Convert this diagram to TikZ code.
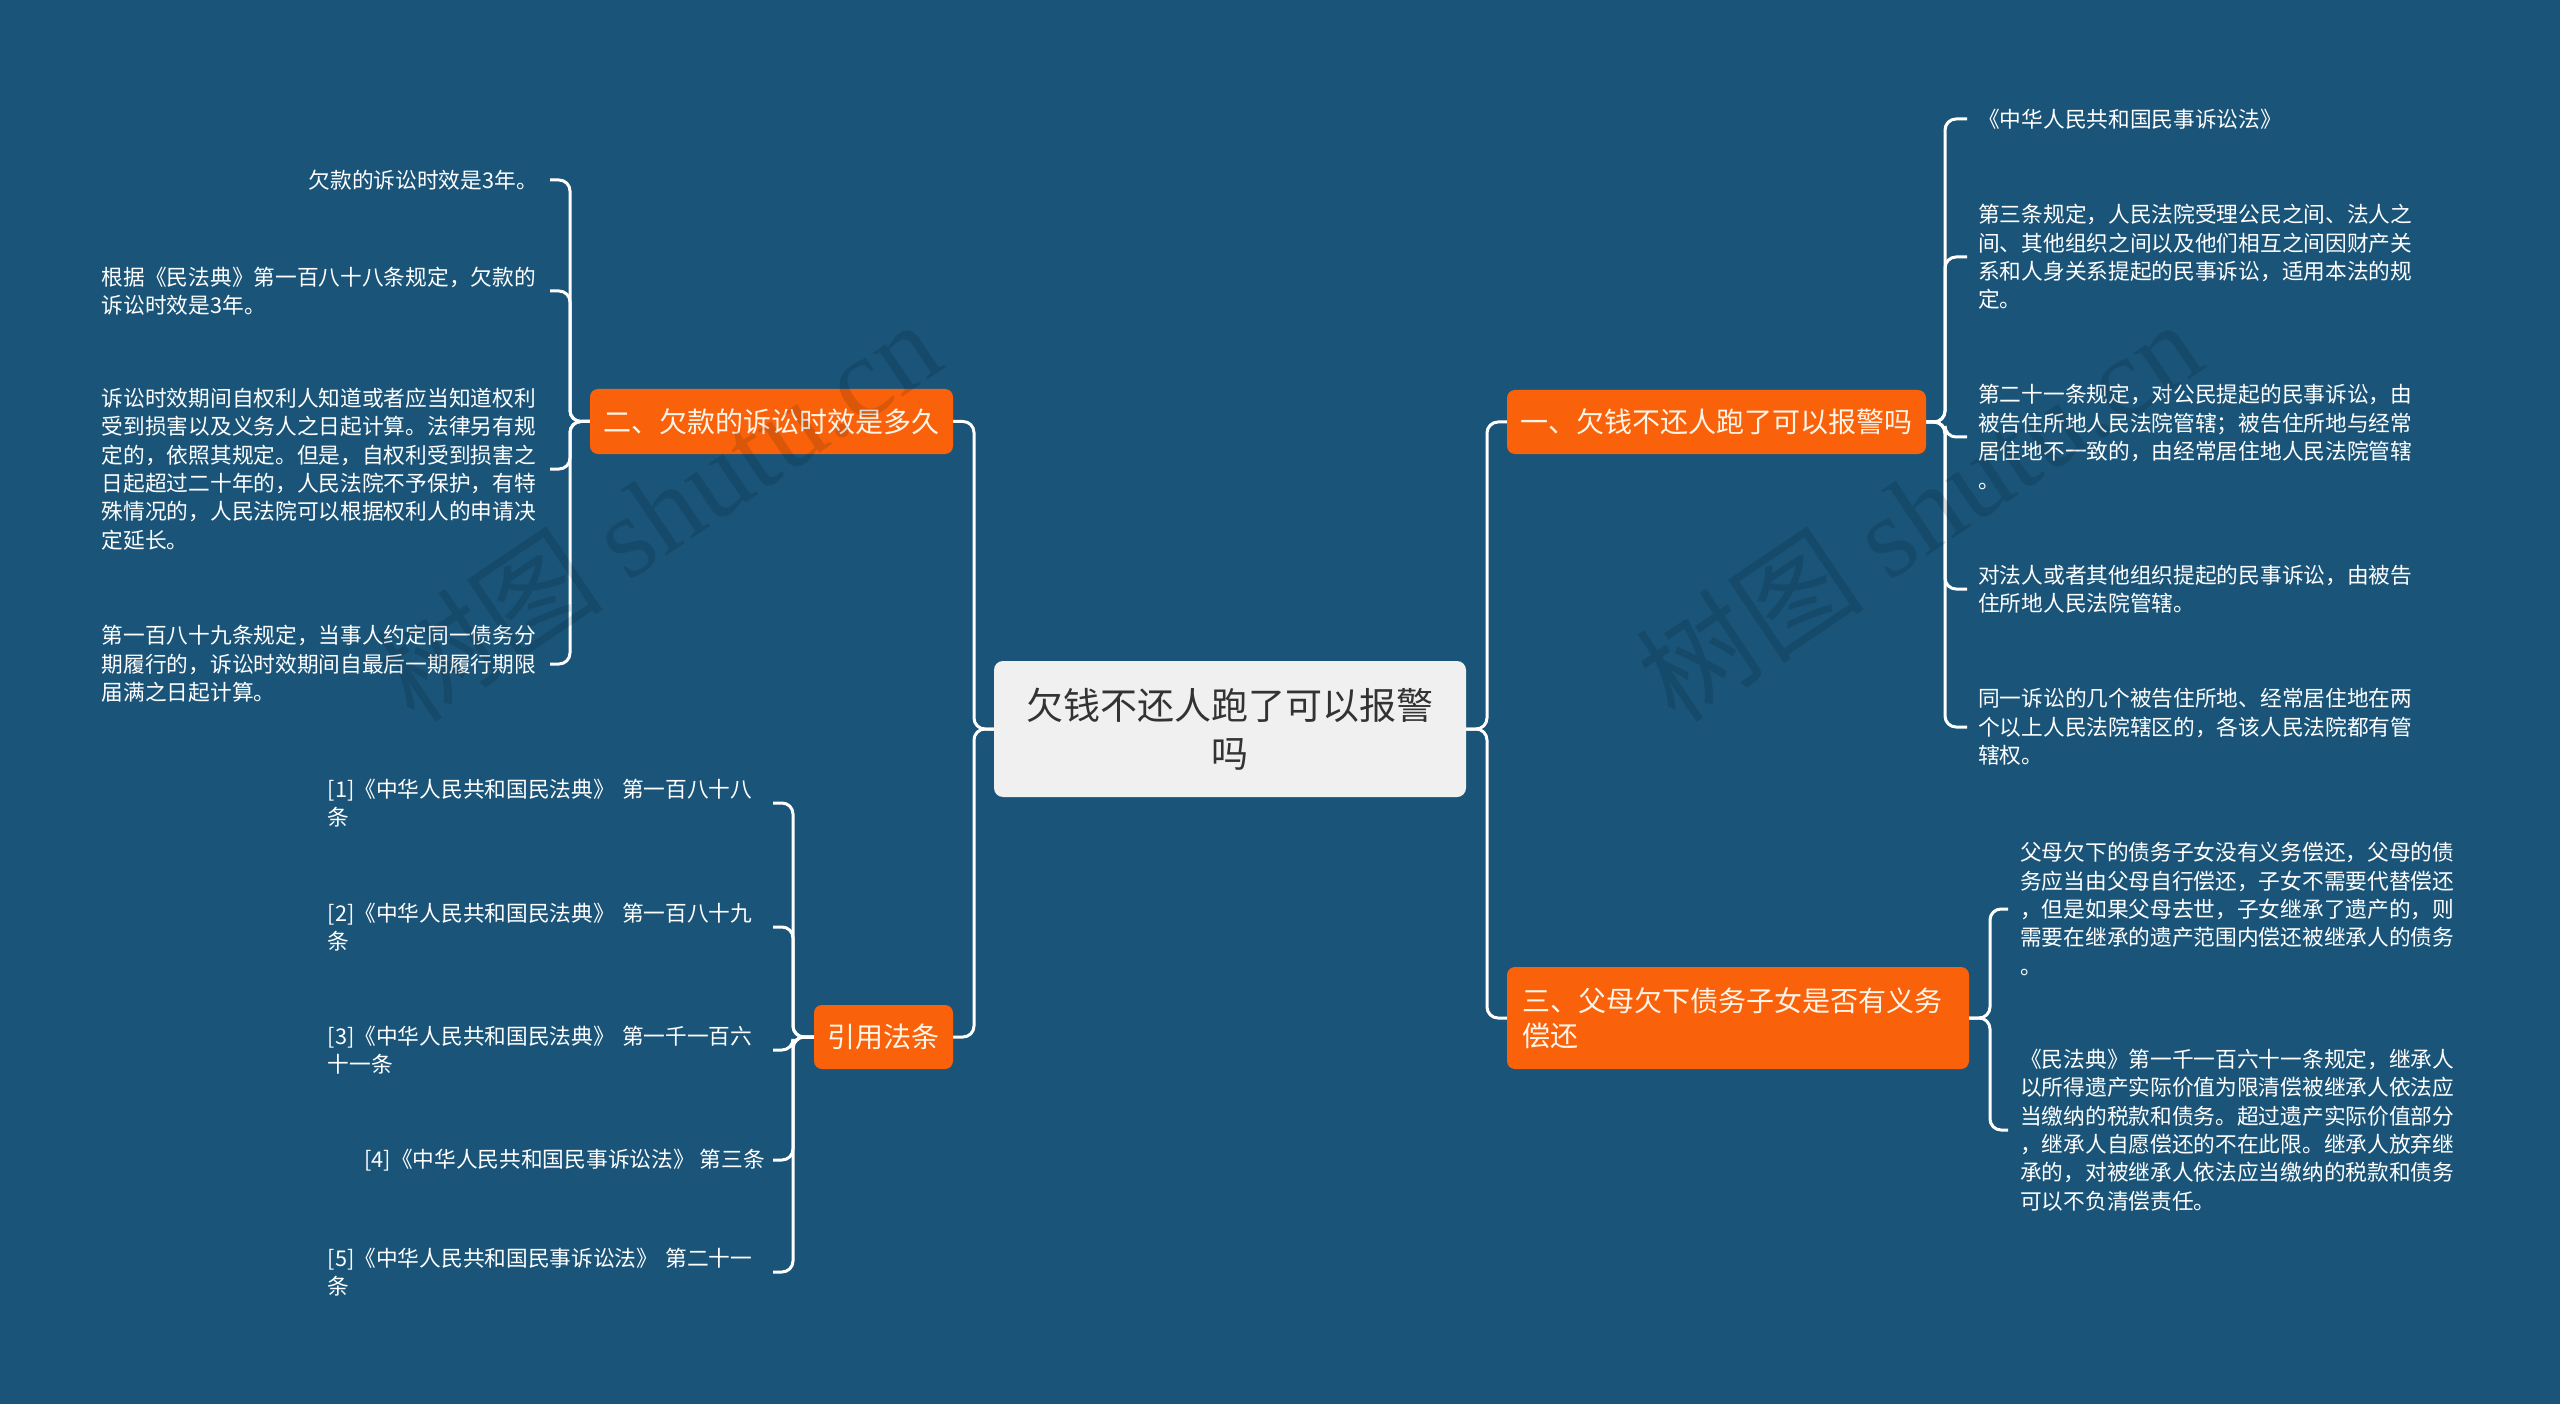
\documentclass[tikz,border=0pt]{standalone}
\usepackage{fontspec}
\setmainfont{Noto Sans CJK SC}
\newfontfamily\wmlat{Liberation Serif}
\usetikzlibrary{calc,backgrounds}
\definecolor{bg}{HTML}{1A5579}
\definecolor{org}{HTML}{F9620A}
\definecolor{ctr}{HTML}{F0F0F0}
\definecolor{ctrtxt}{HTML}{333333}
\definecolor{brtxt}{HTML}{FFF4E8}
\tikzset{
  conn/.style={draw=white, line width=3pt, rounded corners=11pt},
  leaf/.style={inner sep=0pt, text=white, font=\fontsize{21.7}{28.4}\selectfont, align=left},
  leafw/.style={leaf, text width=436pt},
  branch/.style={fill=org, rounded corners=8pt, text=brtxt, font=\fontsize{28}{35}\selectfont, inner sep=0pt, align=center},
  rootbox/.style={fill=ctr, rounded corners=9pt, text=ctrtxt, font=\fontsize{37}{48}\selectfont, inner sep=0pt, align=center, minimum width=472pt, minimum height=136pt},
  wm/.style={text=black, text opacity=0.12, font=\fontsize{115}{120}\selectfont, inner sep=0pt}
}
\begin{document}
\begin{tikzpicture}[x=1pt,y=-1pt]
\begin{pgfonlayer}{background}
\path[use as bounding box, fill=bg] (0,0) rectangle (2560,1404);
\end{pgfonlayer}

% bracket x positions
\coordinate (S1) at (974,0);
\coordinate (S2) at (1487,0);
\coordinate (LX) at (570,0);
\coordinate (QX) at (793,0);
\coordinate (RX) at (1945,0);
\coordinate (BX) at (1990,0);

% root and branches
\node[rootbox] (root) at (1230,729) {欠钱不还人跑了可以报警\\吗};
\node[branch, minimum width=363pt, minimum height=65pt] (b2) at (771.5,421.5) {二、欠款的诉讼时效是多久};
\node[branch, minimum width=139pt, minimum height=64pt] (cite) at (883.5,1037) {引用法条};
\node[branch, minimum width=419pt, minimum height=64pt] (b1) at (1716.5,422) {一、欠钱不还人跑了可以报警吗};
\node[branch, minimum height=102pt, inner xsep=15pt, text width=432pt, align=left] (b3) at (1738,1018) {三、父母欠下债务子女是否有义务\\偿还};

% left leaves of b2
\node[leaf, anchor=east] (l1) at (538,180) {欠款的诉讼时效是3年。};
\node[leafw, anchor=east] (l2) at (538,291) {根据《民法典》第一百八十八条规定，欠款的\\诉讼时效是3年。};
\node[leafw, anchor=east] (l3) at (538,469) {诉讼时效期间自权利人知道或者应当知道权利\\受到损害以及义务人之日起计算。法律另有规\\定的，依照其规定。但是，自权利受到损害之\\日起超过二十年的，人民法院不予保护，有特\\殊情况的，人民法院可以根据权利人的申请决\\定延长。};
\node[leafw, anchor=east] (l4) at (538,664) {第一百八十九条规定，当事人约定同一债务分\\期履行的，诉讼时效期间自最后一期履行期限\\届满之日起计算。};

% leaves of cite
\node[leafw, anchor=east, text width=437pt] (q1) at (765,803) {[1]《中华人民共和国民法典》 第一百八十八\\条};
\node[leafw, anchor=east, text width=437pt] (q2) at (765,927) {[2]《中华人民共和国民法典》 第一百八十九\\条};
\node[leafw, anchor=east, text width=437pt] (q3) at (765,1050) {[3]《中华人民共和国民法典》 第一千一百六\\十一条};
\node[leaf, anchor=east] (q4) at (765,1160) {[4]《中华人民共和国民事诉讼法》 第三条};
\node[leafw, anchor=east, text width=437pt] (q5) at (765,1272) {[5]《中华人民共和国民事诉讼法》 第二十一\\条};

% leaves of b1
\node[leaf, anchor=west] (r1) at (1978,119) {《中华人民共和国民事诉讼法》};
\node[leaf, anchor=west] (r2) at (1978,257) {第三条规定，人民法院受理公民之间、法人之\\间、其他组织之间以及他们相互之间因财产关\\系和人身关系提起的民事诉讼，适用本法的规\\定。};
\node[leaf, anchor=west] (r3) at (1978,437) {第二十一条规定，对公民提起的民事诉讼，由\\被告住所地人民法院管辖；被告住所地与经常\\居住地不一致的，由经常居住地人民法院管辖\\。};
\node[leaf, anchor=west] (r4) at (1978,589) {对法人或者其他组织提起的民事诉讼，由被告\\住所地人民法院管辖。};
\node[leaf, anchor=west] (r5) at (1978,727) {同一诉讼的几个被告住所地、经常居住地在两\\个以上人民法院辖区的，各该人民法院都有管\\辖权。};

% leaves of b3
\node[leaf, anchor=west] (t1) at (2020,909) {父母欠下的债务子女没有义务偿还，父母的债\\务应当由父母自行偿还，子女不需要代替偿还\\，但是如果父母去世，子女继承了遗产的，则\\需要在继承的遗产范围内偿还被继承人的债务\\。};
\node[leaf, anchor=west] (t2) at (2020,1130) {《民法典》第一千一百六十一条规定，继承人\\以所得遗产实际价值为限清偿被继承人依法应\\当缴纳的税款和债务。超过遗产实际价值部分\\，继承人自愿偿还的不在此限。继承人放弃继\\承的，对被继承人依法应当缴纳的税款和债务\\可以不负清偿责任。};

% connectors (behind the boxes)
\begin{pgfonlayer}{background}
\draw[conn] (root.west) -- (root.west -| S1) |- (b2.east);
\draw[conn] (root.west) -- (root.west -| S1) |- (cite.east);
\draw[conn] (root.east) -- (root.east -| S2) |- (b1.west);
\draw[conn] (root.east) -- (root.east -| S2) |- (b3.west);
\foreach \n in {l1,l2,l3,l4}
  \draw[conn] (b2.west) -- (b2.west -| LX) |- ([xshift=12pt]\n.east);
\foreach \n in {q1,q2,q3,q4,q5}
  \draw[conn] (cite.west) -- (cite.west -| QX) |- ([xshift=8pt]\n.east);
\foreach \n in {r1,r2,r3,r4,r5}
  \draw[conn] (b1.east) -- (b1.east -| RX) |- ([xshift=-11pt]\n.west);
\foreach \n in {t1,t2}
  \draw[conn] (b3.east) -- (b3.east -| BX) |- ([xshift=-12pt]\n.west);
\end{pgfonlayer}

% watermark
\node[wm, rotate=34] (wm1) at (657,510) {树图 {\wmlat shutu.cn}};
\node[wm, rotate=34] (wm2) at (1918,510) {树图 {\wmlat shutu.cn}};
\end{tikzpicture}
\end{document}
